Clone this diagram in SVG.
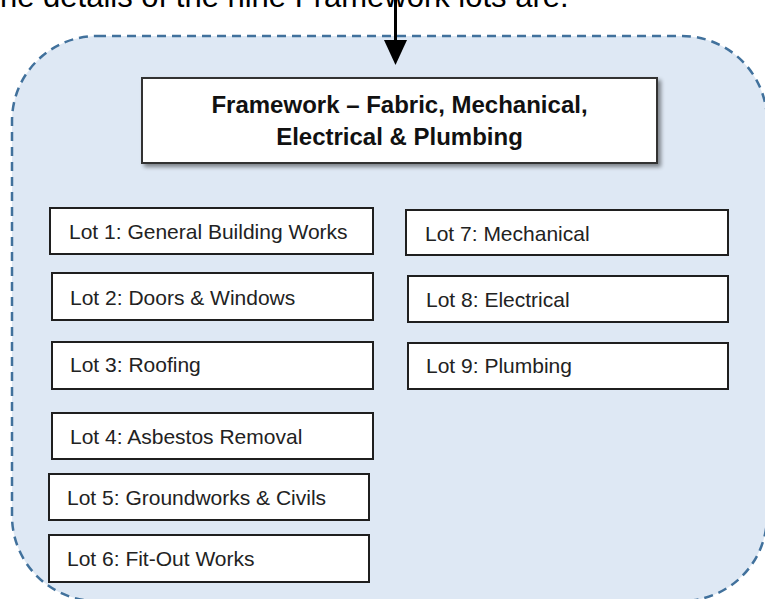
<svg xmlns="http://www.w3.org/2000/svg" width="765" height="599" viewBox="0 0 765 599">
<defs>
<style>
.lot rect{fill:#fff;stroke:#1f1f1f;stroke-width:2}
.lot text{font-family:"Liberation Sans",Arial,sans-serif;font-size:21px;fill:#222}
.title text{font-family:"Liberation Sans",Arial,sans-serif;font-size:24px;font-weight:bold;fill:#111;text-anchor:middle}
</style>
<filter id="sh" x="-5%" y="-10%" width="115%" height="130%">
<feGaussianBlur in="SourceAlpha" stdDeviation="2"/>
<feOffset dx="3" dy="3" result="b"/>
<feComponentTransfer><feFuncA type="linear" slope="0.45"/></feComponentTransfer>
<feMerge><feMergeNode/><feMergeNode in="SourceGraphic"/></feMerge>
</filter>
</defs>
<rect width="765" height="599" fill="#fff"/>
<text x="0" y="7" font-family="Liberation Sans, Arial, sans-serif" font-size="31" fill="#000">he details of the nine Framework lots are:</text>
<g id="container">
<rect x="12" y="36" width="755" height="565" rx="85" ry="85" fill="#dee8f4" stroke="#41719c" stroke-width="2.5" stroke-dasharray="9,6"/>
</g>
<g id="connectors">
<line x1="395.5" y1="0" x2="395.5" y2="44" stroke="#000" stroke-width="3"/>
<polygon points="384,40 407,40 395.5,65" fill="#000"/>
</g>
<g id="title" class="title">
<rect x="142" y="78" width="515" height="85" fill="#fff" stroke="#333" stroke-width="2" filter="url(#sh)"/>
<text x="399.5" y="113">Framework – Fabric, Mechanical,</text>
<text x="399.5" y="145">Electrical &amp; Plumbing</text>
</g>
<g id="lot1" class="lot"><rect x="50" y="208" width="323" height="46"/><text x="69" y="239">Lot 1: General Building Works</text></g>
<g id="lot2" class="lot"><rect x="52" y="273" width="321" height="47"/><text x="70" y="305">Lot 2: Doors &amp; Windows</text></g>
<g id="lot3" class="lot"><rect x="52" y="342" width="321" height="47"/><text x="70" y="372">Lot 3: Roofing</text></g>
<g id="lot4" class="lot"><rect x="52" y="413" width="321" height="46"/><text x="70" y="444">Lot 4: Asbestos Removal</text></g>
<g id="lot5" class="lot"><rect x="49" y="474" width="320" height="46"/><text x="67" y="505">Lot 5: Groundworks &amp; Civils</text></g>
<g id="lot6" class="lot"><rect x="49" y="535" width="320" height="47"/><text x="67" y="566">Lot 6: Fit-Out Works</text></g>
<g id="lot7" class="lot"><rect x="406" y="210" width="322" height="45"/><text x="425" y="241">Lot 7: Mechanical</text></g>
<g id="lot8" class="lot"><rect x="408" y="276" width="320" height="46"/><text x="426" y="307">Lot 8: Electrical</text></g>
<g id="lot9" class="lot"><rect x="408" y="343" width="320" height="46"/><text x="426" y="373">Lot 9: Plumbing</text></g>
</svg>
